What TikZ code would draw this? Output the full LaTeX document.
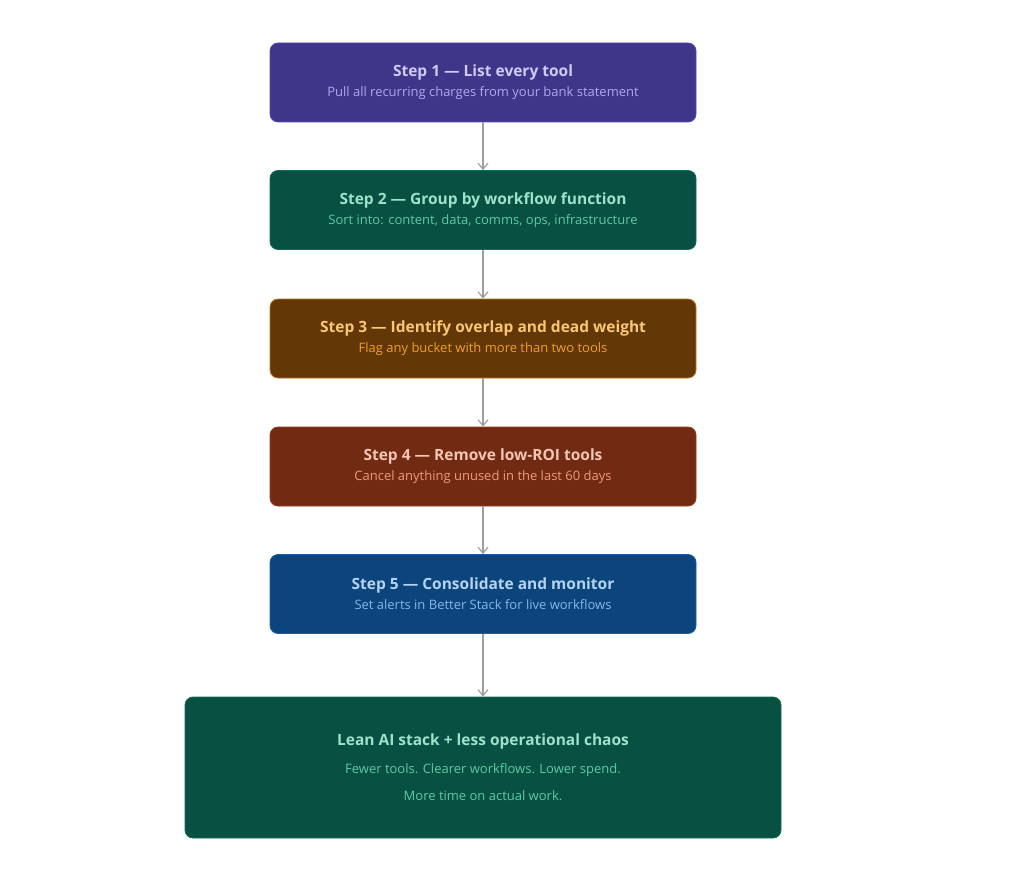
\documentclass[tikz,border=0pt]{standalone}
\usepackage{fontspec}
\setmainfont{Open Sans}
\usetikzlibrary{arrows.meta}
\newcommand\subf{\fontsize{13}{16}\selectfont\mdseries}
\definecolor{fA}{HTML}{3F3689}\definecolor{bA}{HTML}{534AB7}\definecolor{tA}{HTML}{CECBF6}\definecolor{sA}{HTML}{AFA9EC}
\definecolor{fB}{HTML}{085041}\definecolor{bB}{HTML}{0F6E56}\definecolor{tB}{HTML}{9FE1CB}\definecolor{sB}{HTML}{5DCAA5}
\definecolor{fC}{HTML}{633806}\definecolor{bC}{HTML}{BA7517}\definecolor{tC}{HTML}{FAC775}\definecolor{sC}{HTML}{EF9F27}
\definecolor{fD}{HTML}{712B13}\definecolor{bD}{HTML}{993C1D}\definecolor{tD}{HTML}{F5C4B3}\definecolor{sD}{HTML}{F0997B}
\definecolor{fE}{HTML}{0C447C}\definecolor{bE}{HTML}{185FA5}\definecolor{tE}{HTML}{B5D4F4}\definecolor{sE}{HTML}{85B7EB}
\begin{document}
\begin{tikzpicture}[x=1pt,y=-1pt,
 box/.style={draw=b#1,fill=f#1,rounded corners=8pt,line width=0.8pt,minimum width=426pt,minimum height=79pt,align=center,text=t#1,font=\fontsize{15.5}{22}\selectfont\bfseries},
 arr/.style={draw=gray!75,line width=1.2pt,-{Straight Barb[length=6pt,width=10pt]}}]
\useasboundingbox (0,0) rectangle (1024,882);
\node[box=A] (s1) at (483,82.5) {Step 1 — List every tool\\[-2pt]{\color{sA}\subf Pull all recurring charges from your bank statement}};
\node[box=B] (s2) at (483,210) {Step 2 — Group by workflow function\\[-2pt]{\color{sB}\subf Sort into: content, data, comms, ops, infrastructure}};
\node[box=C] (s3) at (483,338.5) {Step 3 — Identify overlap and dead weight\\[-2pt]{\color{sC}\subf Flag any bucket with more than two tools}};
\node[box=D] (s4) at (483,466.5) {Step 4 — Remove low-ROI tools\\[-2pt]{\color{sD}\subf Cancel anything unused in the last 60 days}};
\node[box=E] (s5) at (483,594) {Step 5 — Consolidate and monitor\\[-2pt]{\color{sE}\subf Set alerts in Better Stack for live workflows}};
\node[box=B,minimum width=596pt,minimum height=141pt] (s6) at (483,767.5) {Lean AI stack + less operational chaos\\[6pt]{\color{sB}\subf Fewer tools. Clearer workflows. Lower spend.}\\[5pt]{\color{sB}\subf More time on actual work.}};
\draw[arr] (s1) -- (s2);
\draw[arr] (s2) -- (s3);
\draw[arr] (s3) -- (s4);
\draw[arr] (s4) -- (s5);
\draw[arr] (s5) -- (s6);
\end{tikzpicture}
\end{document}
